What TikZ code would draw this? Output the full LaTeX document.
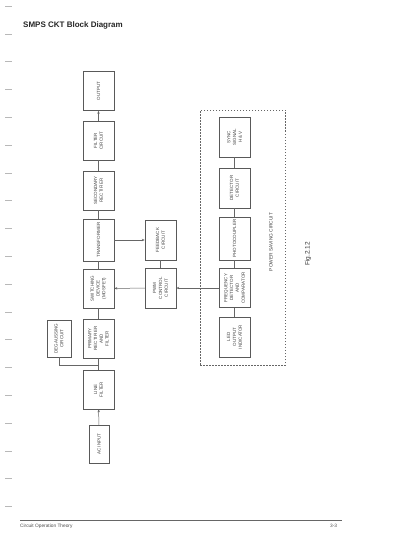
\documentclass[tikz,border=0pt]{standalone}
\usepackage{fontspec}
\setmainfont{Liberation Sans}
\usetikzlibrary{arrows.meta}
\begin{document}
\begin{tikzpicture}[x=1pt,y=-1pt,
  blk/.style={draw=black!65, line width=0.5pt, rotate=90, inner sep=0pt, align=center,
    minimum width=39pt, minimum height=31pt, text=black!75,
    font=\fontsize{4.5}{5.8}\selectfont},
  conn/.style={draw=black!60, line width=0.5pt},
  arr/.style={conn, -{Stealth[length=3pt,width=2.4pt]}},
  scanmark/.style={draw=black!28, line width=0.5pt}]
\useasboundingbox (0,0) rectangle (400,535);
% scan margin marks
\foreach \k in {0,...,18} {
  \draw[scanmark] (5,{6+27.8*\k}) -- (12,{6+27.8*\k});
}
% title
\node[anchor=west, font=\bfseries\fontsize{8}{9}\selectfont, text=black!85, inner sep=0pt] (title) at (23,25) {SMPS CKT Block Diagram};
% main chain
\node[blk] (output) at (98.5,91) {OUTPUT};
\node[blk] (filter) at (98.5,140.5) {FILTER\\CIRCUIT};
\node[blk] (secondary) at (98.5,190.5) {SECONDARY\\RECTIFIER};
\node[blk, minimum width=42pt] (transformer) at (98.5,240) {TRANSFORMER};
\node[blk] (switching) at (98.5,288.5) {SWITCHING\\DEVICE\\(MOSFET)};
\node[blk] (primary) at (98.5,338.5) {PRIMARY\\RECTIFIER\\AND\\FILTER};
\node[blk] (linefilter) at (98.5,389.5) {LINE\\FILTER};
\node[blk, minimum width=38pt, minimum height=20pt] (acinput) at (99,444) {AC INPUT};
\node[blk, minimum width=37pt, minimum height=24pt] (degauss) at (59,338.5) {DEGAUSSING\\CIRCUIT};
% control column
\node[blk, minimum width=40pt] (feedback) at (160.5,240) {FEEDBACK\\CIRCUIT};
\node[blk, minimum width=40pt] (pwm) at (160.5,288) {PWM\\CONTROL\\CIRCUIT};
% power saving circuit
\node[draw=black!60, dashed, dash pattern=on 1.5pt off 1.5pt, line width=0.5pt,
  minimum width=85pt, minimum height=255pt, inner sep=0pt] (psc) at (242.5,237.5) {};
\node[rotate=90, inner sep=0pt, text=black!75, font=\fontsize{4.8}{5.6}\selectfont] (psclabel) at (271,242) {POWER SAVING CIRCUIT};
\node[blk, minimum width=40pt] (sync) at (234.5,137) {SYNC\\SIGNAL\\H \& V};
\node[blk, minimum width=40pt] (detector) at (234.5,188) {DETECTOR\\CIRCUIT};
\node[blk, minimum width=43pt] (photo) at (234.5,238.5) {PHOTOCOUPLER};
\node[blk] (freq) at (234.5,288) {FREQUENCY\\DETECTOR\\AND\\COMPARATOR};
\node[blk, minimum width=40pt] (led) at (234.5,337) {LED\\OUTPUT\\INDICATOR};
% figure label
\node[rotate=90, inner sep=0pt, text=black!80, font=\fontsize{6.5}{7.5}\selectfont] (fig) at (308,254) {Fig.2.12};
% connectors main chain
\draw[arr] (filter) -- (output);
\draw[conn] (secondary) -- (filter);
\draw[conn] (transformer) -- (secondary);
\draw[conn] (switching) -- (transformer);
\draw[conn] (primary) -- (switching);
\draw[conn] (linefilter) -- (primary);
\draw[arr] (acinput) -- (linefilter);
\coordinate (jn) at (98.5,365);
\draw[conn] (degauss) |- (jn);
% control connectors
\draw[arr] (transformer) -- (feedback);
\draw[conn] (feedback) -- (pwm);
\draw[arr] (pwm) -- (switching);
\draw[arr] (freq) -- (pwm);
% power saving connectors
\draw[conn] (sync) -- (detector);
\draw[conn] (detector) -- (photo);
\draw[conn] (photo) -- (freq);
\draw[conn] (freq) -- (led);
% footer
\coordinate (fl) at (20,520);
\coordinate (fr) at (342,520);
\draw[draw=black!60, line width=0.6pt] (fl) -- (fr);
\node[anchor=west, inner sep=0pt, text=black!70, font=\fontsize{4.8}{5.6}\selectfont] (footer) at (20,526) {Circuit Operation Theory};
\node[anchor=west, inner sep=0pt, text=black!70, font=\fontsize{4.8}{5.6}\selectfont] (page) at (330,526) {3-3};
\end{tikzpicture}
\end{document}
